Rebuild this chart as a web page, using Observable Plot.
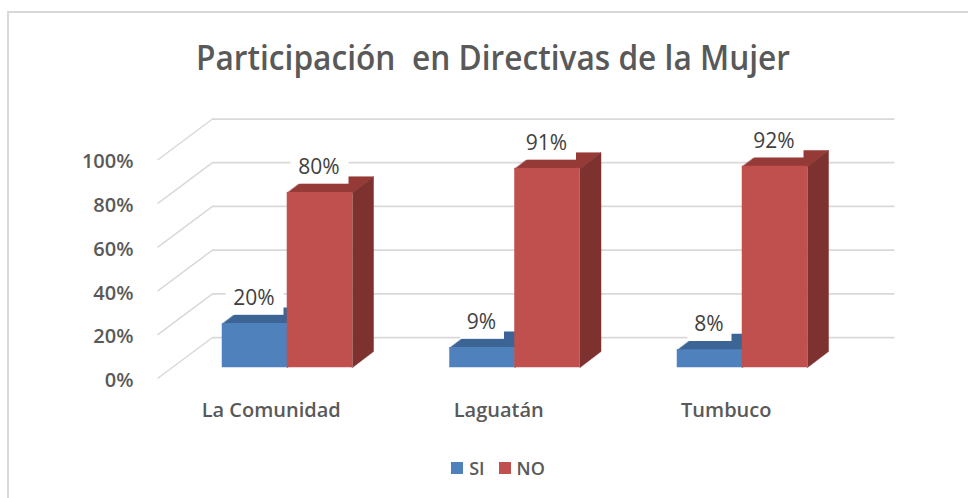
<!DOCTYPE html>
<html>
<head>
<meta charset="utf-8">
<script src="https://cdn.jsdelivr.net/npm/d3@7"></script>
<script src="https://cdn.jsdelivr.net/npm/@observablehq/plot@0.6"></script>
<style>
  body { margin: 0; background: #fff; font-family: "Open Sans", sans-serif; }
  #root { position: relative; width: 968px; height: 498px; overflow: hidden; background: #fff; }
  #border { position: absolute; left: 7px; top: 11px; width: 1000px; height: 600px; border: 2px solid #d9d9d9; z-index: 5; pointer-events: none; }
  #title { position: absolute; left: 0; top: 41px; width: 986px; text-align: center; font-size: 33.6px; line-height: 33.6px; font-weight: 600; color: #595959; white-space: pre; }
  #title span { display: inline-block; transform-origin: 50% 50%; white-space: pre; }
  #chart { position: absolute; left: 0; top: 90px; }
  #legend { position: absolute; left: 0; top: 459px; width: 968px; padding-left: 28px; box-sizing: border-box; display: flex; justify-content: center; align-items: center; font-size: 18px; line-height: 18px; font-weight: 600; color: #595959; }
  .item { display: flex; align-items: center; margin: 0 7px; }
  .sw { width: 12px; height: 12px; margin-right: 6px; }
</style>
</head>
<body>
<div id="root">
  <div id="border"></div>
  <div id="title"><span></span></div>
  <div id="chart"></div>
  <div id="legend"></div>
</div>
<script>
// ---- data ----
const title = "Participación  en Directivas de la Mujer";
const categories = ["La Comunidad", "Laguatán", "Tumbuco"];
const series = ["SI", "NO"];
const siValues = [20, 9, 8];
const noValues = [80, 91, 92];
const yTicks = [0, 20, 40, 60, 80, 100];

// ---- style ----
const palette = {
  SI: {front: "#4f81bd", top: "#3c6494", side: "#355a87"},
  NO: {front: "#c0504d", top: "#953a37", side: "#7d3230"}
};

const W = 968, H = 350;
const ML = 173.25, MR = 112.25, MT = 58.5, MB = 73;
const pxU = (W - ML - MR) / categories.length;
const pxY = (H - MT - MB) / 100;
const ux = px => px / pxU;
const uy = px => px / pxY;

const BAR = ux(65);
const DEPTH = {x: ux(21), y: uy(16)};
const BACK = {x: ux(38.75), y: uy(30)};
const FRONT = {x: ux(-16.25), y: uy(-11)};

// ---- title ----
const tspan = document.querySelector("#title span");
tspan.textContent = title;
const tw = tspan.getBoundingClientRect().width;
tspan.style.transform = `scaleX(${594 / tw})`;

// ---- bars ----
const bars = categories.flatMap((category, i) => series.map((s, j) => {
  const value = (j === 0 ? siValues : noValues)[i];
  const x1 = i + 0.5 + (j - 1) * BAR;
  const x2 = x1 + BAR;
  return {category, series: s, value, x1, x2, cx: (x1 + x2) / 2, label: value + "%"};
}));

const faces = bars.flatMap(b => {
  const {x1, x2, value: v, series: s} = b;
  const id = b.category + "-" + s;
  const top = [[x1, v], [x2, v], [x2 + DEPTH.x, v + DEPTH.y], [x1 + DEPTH.x, v + DEPTH.y]];
  const side = [[x2, 0], [x2 + DEPTH.x, DEPTH.y], [x2 + DEPTH.x, v + DEPTH.y], [x2, v]];
  return [
    ...top.map(([x, y]) => ({id: id + "-top", series: s, face: "top", x, y})),
    ...side.map(([x, y]) => ({id: id + "-side", series: s, face: "side", x, y}))
  ];
});

const barMarks = series.flatMap(s => [
  Plot.line(faces.filter(f => f.series === s && f.face === "top"),
    {x: "x", y: "y", z: "id", curve: "linear-closed", fill: palette[s].top, stroke: palette[s].top, strokeWidth: 0.5}),
  Plot.line(faces.filter(f => f.series === s && f.face === "side"),
    {x: "x", y: "y", z: "id", curve: "linear-closed", fill: palette[s].side, stroke: palette[s].side, strokeWidth: 0.5}),
  Plot.rect(bars.filter(b => b.series === s),
    {x1: "x1", x2: "x2", y1: 0, y2: "value", fill: palette[s].front, stroke: palette[s].front, strokeWidth: 0.5})
]);

const chart = Plot.plot({
  width: W,
  height: H,
  marginLeft: ML,
  marginRight: MR,
  marginTop: MT,
  marginBottom: MB,
  x: {type: "linear", domain: [0, categories.length], axis: null},
  y: {domain: [0, 100], axis: null},
  style: {fontFamily: "'Open Sans', sans-serif", background: "transparent", overflow: "visible"},
  marks: [
    // back wall gridlines
    Plot.ruleY(yTicks, {y: d => d + BACK.y, x1: BACK.x, x2: categories.length + BACK.x, stroke: "#d9d9d9", strokeWidth: 1.75}),
    // side wall diagonals
    Plot.link(yTicks, {x1: FRONT.x, y1: d => d + FRONT.y, x2: BACK.x, y2: d => d + BACK.y, stroke: "#d9d9d9", strokeWidth: 1.5}),
    ...barMarks,
    // label boxes
    Plot.rect(bars, {
      x1: d => d.cx - ux(8 + 7 * d.label.length),
      x2: d => d.cx + ux(8 + 7 * d.label.length),
      y1: d => d.value + uy(8.5),
      y2: d => d.value + uy(41.5),
      fill: "white"
    }),
    // data labels
    Plot.text(bars, {x: "cx", y: "value", text: "label", dx: -1, dy: -25.5, fontSize: 21, fontWeight: 400, fill: "#404040"}),
    // y tick labels
    Plot.text(yTicks, {x: FRONT.x, y: d => d + FRONT.y, text: d => d + "%", textAnchor: "end", dx: -24, dy: 2, fontSize: 20, fontWeight: 600, fill: "#595959"}),
    // category labels
    Plot.text(categories, {x: (d, i) => i + 0.5 + FRONT.x, y: 0, dy: 43, text: d => d, fontSize: 20, fontWeight: 600, fill: "#595959"})
  ]
});
document.getElementById("chart").appendChild(chart);

// ---- legend ----
const legend = document.getElementById("legend");
series.forEach(s => {
  const item = document.createElement("div");
  item.className = "item";
  const sw = document.createElement("span");
  sw.className = "sw";
  sw.style.background = palette[s].front;
  const label = document.createElement("span");
  label.textContent = s;
  item.appendChild(sw);
  item.appendChild(label);
  legend.appendChild(item);
});
</script>
</body>
</html>
